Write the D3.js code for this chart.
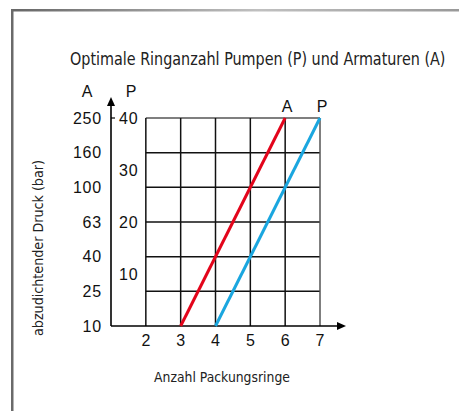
<!DOCTYPE html>
<html>
<head>
<meta charset="utf-8">
<script src="https://cdn.jsdelivr.net/npm/d3@7"></script>
<style>
  html, body { margin: 0; padding: 0; background: #fff; }
  svg { display: block; }
  .tick-label { font-family: "Liberation Sans", Arial, sans-serif; font-size: 16px; fill: #111; }
  .num { letter-spacing: 0.8px; }
  .title { font-family: "Liberation Sans Narrow", "DejaVu Sans Condensed", "Open Sans", sans-serif; fill: #222; }
</style>
</head>
<body>
<svg id="chart" width="459" height="411"></svg>
<script>
// Number of packing rings (x axis)
const ringTicks = [2, 3, 4, 5, 6, 7];
// Pressure classes for valves (A), evenly spaced rows
const pressureA = ["10", "25", "40", "63", "100", "160", "250"];
// Pressure ticks for pumps (P)
const pressureP = [10, 20, 30, 40];

// Straight lines: start ring count at lowest pressure, end ring count at highest pressure
const seriesNames = ["A", "P"];
const seriesColors = ["#e3051b", "#1aa6df"];
const seriesA = [{ rings: 3, pressure: "10" }, { rings: 6, pressure: "250" }];
const seriesP = [{ rings: 4, pressure: "10" }, { rings: 7, pressure: "250" }];

const svg = d3.select("#chart");

// Frame: gray left edge and a fading top edge
const defs = svg.append("defs");
const grad = defs.append("linearGradient").attr("id", "topEdge")
  .attr("x1", "0%").attr("x2", "100%").attr("y1", "0%").attr("y2", "0%");
grad.append("stop").attr("offset", "0%").attr("stop-color", "#666");
grad.append("stop").attr("offset", "55%").attr("stop-color", "#c0c0c0");
grad.append("stop").attr("offset", "100%").attr("stop-color", "#999");
svg.append("rect").attr("x", 11).attr("y", 9).attr("width", 448).attr("height", 2.5).attr("fill", "url(#topEdge)");
svg.append("rect").attr("x", 11).attr("y", 9).attr("width", 2.5).attr("height", 402).attr("fill", "#6a6a6a");

// Scales
const x = d3.scaleLinear().domain([1, 7]).range([111, 320]);
const yA = d3.scalePoint().domain(pressureA).range([326, 118]);
const yP = d3.scaleLinear().domain([0, 40]).range([326, 118]);

// Grid: horizontal rows
const grid = svg.append("g").attr("stroke-width", 1.5);
grid.selectAll("line.h").data(pressureA.slice(1)).join("line")
  .attr("x1", x(2)).attr("x2", x(7))
  .attr("y1", d => yA(d)).attr("y2", d => yA(d))
  .attr("stroke", d => d === "250" ? "#555" : "#111");
// Grid: vertical columns
grid.selectAll("line.v").data(ringTicks).join("line")
  .attr("x1", d => x(d)).attr("x2", d => x(d))
  .attr("y1", yA("250")).attr("y2", yA("10"))
  .attr("stroke", d => d === 7 ? "#555" : "#111");

// Axes with arrowheads
const axisG = svg.append("g").attr("stroke", "#000").attr("stroke-width", 1.6);
axisG.append("line").attr("x1", x(1)).attr("x2", x(1)).attr("y1", yA("10")).attr("y2", 102);
axisG.append("line").attr("x1", x(1)).attr("x2", 340).attr("y1", yA("10")).attr("y2", yA("10"));
axisG.append("line").attr("x1", x(1)).attr("x2", x(1) + 4).attr("y1", yA("250")).attr("y2", yA("250")).attr("stroke-width", 1.2);
svg.append("path").attr("fill", "#000")
  .attr("d", `M${x(1)},97 L${x(1) - 4},106 L${x(1) + 4},106 Z`);
svg.append("path").attr("fill", "#000")
  .attr("d", `M346,${yA("10")} L337,${yA("10") - 4} L337,${yA("10") + 4} Z`);

// Series lines
const line = d3.line().x(d => x(d.rings)).y(d => yA(d.pressure));
[seriesA, seriesP].forEach((s, i) => {
  svg.append("path").datum(s)
    .attr("d", line)
    .attr("fill", "none")
    .attr("stroke", seriesColors[i])
    .attr("stroke-width", 3);
  const last = s[s.length - 1];
  svg.append("text").attr("class", "tick-label")
    .attr("x", x(last.rings) + 2).attr("y", 112)
    .attr("text-anchor", "middle")
    .text(seriesNames[i]);
});

// A pressure labels (left)
svg.selectAll("text.a").data(pressureA).join("text")
  .attr("class", "tick-label num")
  .attr("x", 102).attr("y", d => yA(d) + 5.5)
  .attr("text-anchor", "end")
  .text(d => d);

// P pressure labels (between axis and first column)
svg.selectAll("text.p").data(pressureP).join("text")
  .attr("class", "tick-label num")
  .attr("x", 119).attr("y", d => yP(d) + 5.5)
  .text(d => d);

// Column headers for the two pressure scales
svg.append("text").attr("class", "tick-label").attr("x", 87).attr("y", 97).attr("text-anchor", "middle").text("A");
svg.append("text").attr("class", "tick-label").attr("x", 131).attr("y", 97).attr("text-anchor", "middle").text("P");

// Ring count labels
svg.selectAll("text.x").data(ringTicks).join("text")
  .attr("class", "tick-label")
  .attr("x", d => x(d)).attr("y", 346)
  .attr("text-anchor", "middle")
  .text(d => d);

// Titles: size each one so its natural width fills the wanted span,
// then stretch it vertically to the wanted letter height
function fitText(sel, maxSize, width, capHeight) {
  sel.attr("font-size", maxSize);
  const len = sel.node().getComputedTextLength();
  let size = maxSize;
  if (len > width) size = maxSize * width / len;
  sel.attr("font-size", size.toFixed(2));
  return Math.max(1, (capHeight / 0.72) / size);
}

const title = svg.append("text").attr("class", "title")
  .text("Optimale Ringanzahl Pumpen (P) und Armaturen (A)");
const sTitle = fitText(title, 18.5, 376, 13);
title.attr("transform", `translate(70,65) scale(1,${sTitle.toFixed(3)})`);

const xTitle = svg.append("text").attr("class", "title")
  .attr("text-anchor", "middle")
  .text("Anzahl Packungsringe");
const sX = fitText(xTitle, 15, 136, 10.5);
xTitle.attr("transform", `translate(222,382) scale(1,${sX.toFixed(3)})`);

const yTitle = svg.append("text").attr("class", "title")
  .attr("text-anchor", "middle")
  .text("abzudichtender Druck (bar)");
const sY = fitText(yTitle, 15, 176, 10.5);
yTitle.attr("transform", `translate(43,248) rotate(-90) scale(1,${sY.toFixed(3)})`);
</script>
</body>
</html>
